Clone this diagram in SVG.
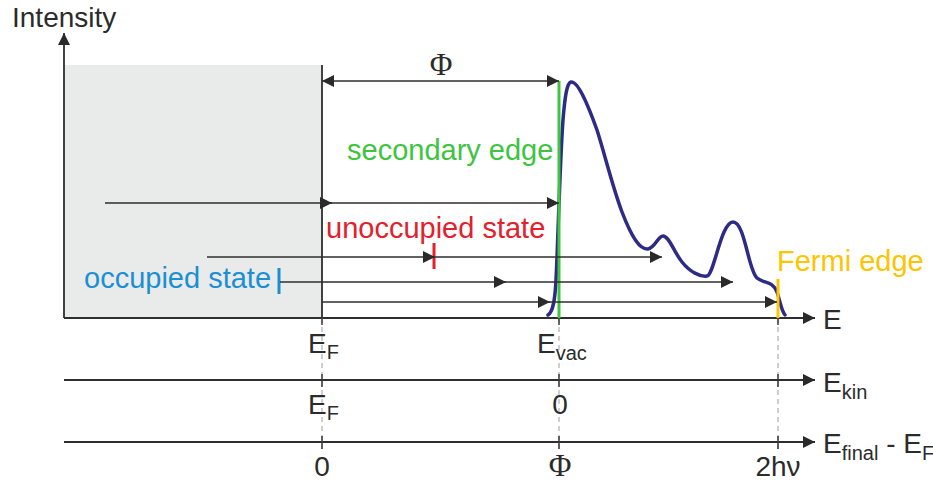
<svg xmlns="http://www.w3.org/2000/svg" width="933" height="484" viewBox="0 0 933 484">
<style>
text{font-family:"Liberation Sans",Arial,sans-serif;fill:#2b2b2b}
.lbl{font-size:28px}
.sub{font-size:20px}
.greek{font-family:"Liberation Serif","Times New Roman",serif;font-size:31px}
.ax{stroke:#2e2e2e;stroke-width:1.8;fill:none}
.arr{stroke:#2e2e2e;stroke-width:1.4;fill:none;marker-end:url(#ah)}
.tick{stroke:#3a3a3a;stroke-width:1.5}
.dash{stroke:#b0b0b0;stroke-width:1.2;stroke-dasharray:5 4}
</style>
<defs>
<marker id="ah" markerUnits="userSpaceOnUse" markerWidth="13" markerHeight="13" refX="12" refY="6" orient="auto-start-reverse" viewBox="0 0 13 13">
<path d="M0,0 L12,6 L0,12 z" fill="#2a2a2a"/>
</marker>
</defs>
<rect x="0" y="0" width="933" height="484" fill="#fff"/>

<g id="occupied-region">
<rect x="64" y="65" width="258" height="253" fill="#e9ebea"/>
<line x1="322" y1="65" x2="322" y2="318" class="ax" stroke-width="1.4"/>
</g>

<g id="axes">
<line x1="64" y1="318" x2="64" y2="33" class="ax" marker-end="url(#ah)"/>
<text x="12" y="27" class="lbl">Intensity</text>
<line x1="64" y1="318" x2="815" y2="318" class="ax" marker-end="url(#ah)"/>
<text x="823" y="329" class="lbl">E</text>
<line x1="64" y1="380" x2="815" y2="380" class="ax" marker-end="url(#ah)"/>
<text x="823" y="392" class="lbl">E<tspan class="sub" dy="7">kin</tspan></text>
<line x1="64" y1="442" x2="815" y2="442" class="ax" marker-end="url(#ah)"/>
<text x="823" y="453" class="lbl">E<tspan class="sub" dy="7">final</tspan><tspan dy="-7"> - E</tspan><tspan class="sub" dy="7">F</tspan></text>
</g>

<g id="guides">
<line x1="322" y1="318" x2="322" y2="450" class="dash"/>
<line x1="559" y1="318" x2="559" y2="450" class="dash"/>
<line x1="778" y1="318" x2="778" y2="452" class="dash"/>
<path class="tick" d="M322,318v7M322,374v13M322,436v13M559,318v7M559,374v13M559,436v13M778,318v7M778,374v13M778,436v13"/>
</g>

<g id="axis-labels">
<text x="308" y="353" class="lbl">E<tspan class="sub" dy="6">F</tspan></text>
<text x="537" y="353" class="lbl">E<tspan class="sub" dy="7">vac</tspan></text>
<text x="308" y="414" class="lbl">E<tspan class="sub" dy="6">F</tspan></text>
<text x="560" y="414" class="lbl" text-anchor="middle">0</text>
<text x="322" y="476" class="lbl" text-anchor="middle">0</text>
<text x="560" y="476" class="greek" text-anchor="middle">Φ</text>
<text x="778" y="476" class="lbl" text-anchor="middle">2hν</text>
</g>

<g id="spectrum">
<path d="M548,315 C553,312 555,300 556,280 C558,240 560,160 563,120 C565,95 567,83 571,82 C578,81 588,105 597,130 C605,155 612,185 622,212 C632,238 640,250 648,249 C655,248 658,236 663,236 C669,236 674,252 682,262 C690,272 700,277 707,276 C714,275 721,222 733,222 C745,222 748,270 757,278 C764,284 772,280 777,292 C780,300 781,310 785,315" fill="none" stroke="#2d2b85" stroke-width="3.5" stroke-linecap="round" stroke-linejoin="round"/>
</g>

<g id="secondary-edge">
<line x1="559" y1="81" x2="559" y2="318" stroke="#3ec43e" stroke-width="3"/>
<text x="347" y="160" class="lbl" style="fill:#3ec43e;font-size:29px">secondary edge</text>
</g>

<g id="fermi-edge">
<line x1="778" y1="279" x2="778" y2="318" stroke="#fcc500" stroke-width="3"/>
<text x="777" y="271" class="lbl" style="fill:#fcc500;font-size:29px">Fermi edge</text>
</g>

<g id="unoccupied-state">
<line x1="434" y1="243" x2="434" y2="269" stroke="#e3202c" stroke-width="3"/>
<text x="326" y="238" class="lbl" style="fill:#e3202c;font-size:29px">unoccupied state</text>
</g>

<g id="occupied-state">
<line x1="279" y1="268" x2="279" y2="294" stroke="#1b8fd2" stroke-width="3"/>
<text x="84" y="288" class="lbl" style="fill:#1b8fd2;font-size:29px">occupied state</text>
</g>

<g id="connectors">
<line x1="322" y1="81" x2="559" y2="81" class="arr" marker-start="url(#ah)"/>
<text x="441" y="75" class="greek" text-anchor="middle">Φ</text>
<line x1="105" y1="203" x2="332" y2="203" class="arr"/>
<line x1="322" y1="203" x2="559" y2="203" class="arr"/>
<line x1="207" y1="257" x2="435" y2="257" class="arr"/>
<line x1="434" y1="257" x2="662" y2="257" class="arr"/>
<line x1="280" y1="282" x2="506" y2="282" class="arr"/>
<line x1="500" y1="282" x2="733" y2="282" class="arr"/>
<line x1="322" y1="302" x2="550" y2="302" class="arr"/>
<line x1="545" y1="302" x2="777" y2="302" class="arr"/>
</g>
</svg>
